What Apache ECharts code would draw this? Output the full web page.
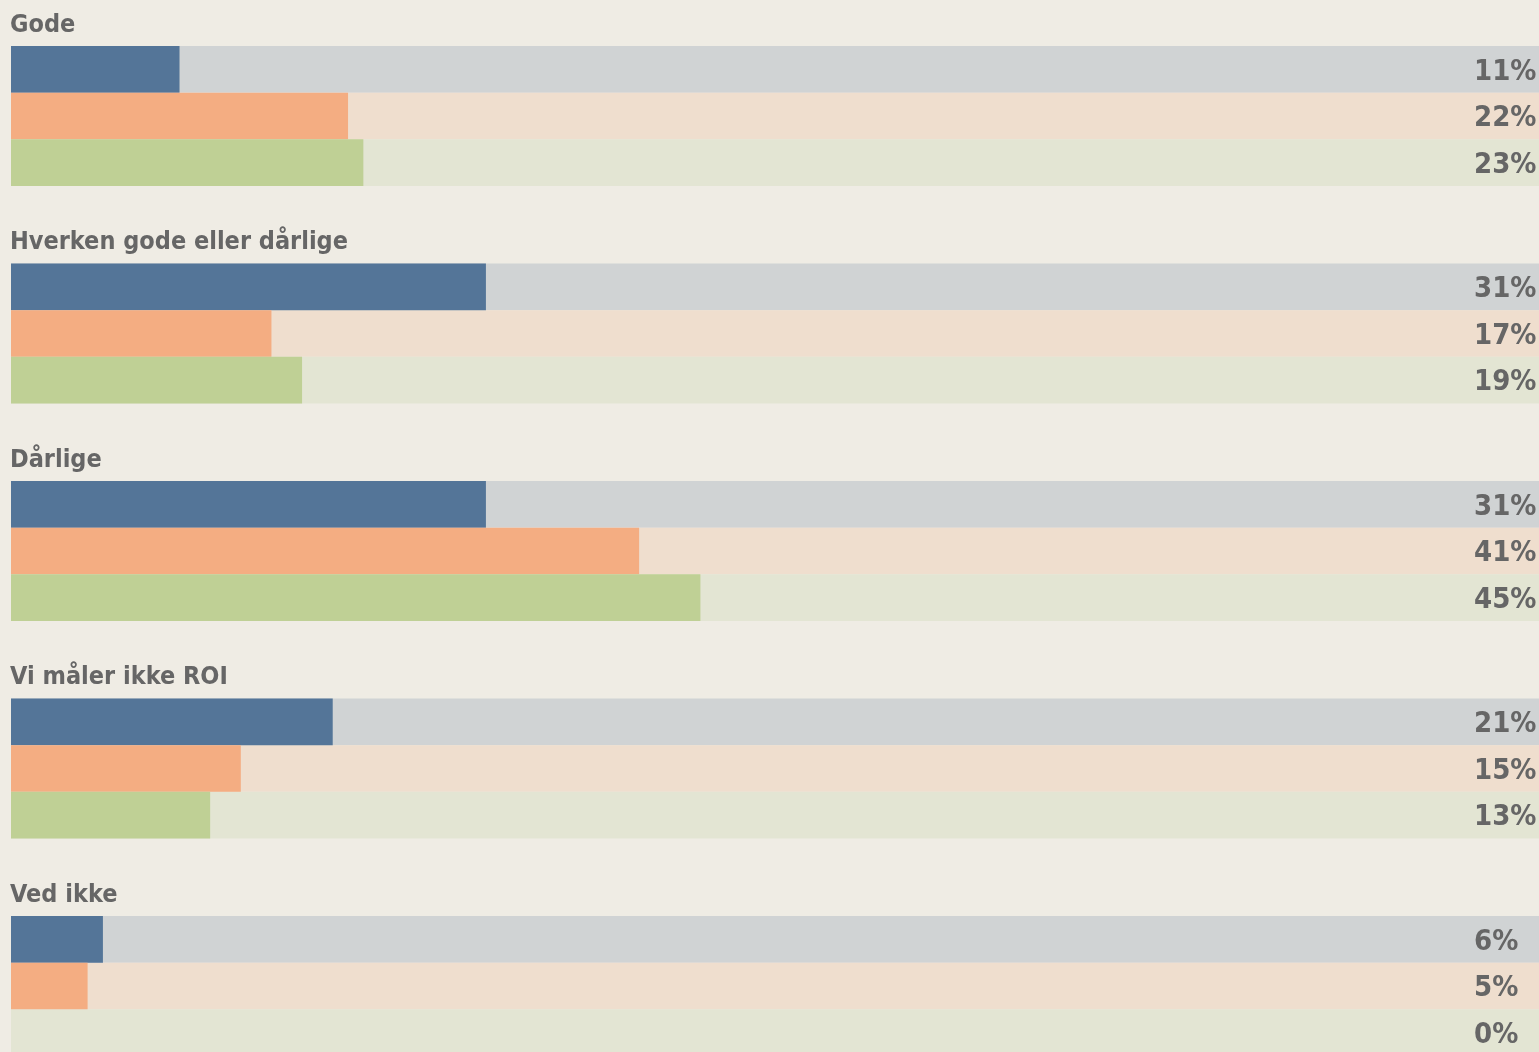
<!DOCTYPE html>
<html>
<head>
<meta charset="utf-8">
<script src="https://cdn.jsdelivr.net/npm/echarts@6/dist/echarts.min.js"></script>
<style>
  html, body { margin: 0; padding: 0; background: #efece4; overflow: hidden; }
  #main { width: 1539px; height: 1100px; }
</style>
</head>
<body>
<div id="main"></div>
<script type="text/javascript">
// categories (answer groups)
var categories = ['Gode', 'Hverken gode eller dårlige', 'Dårlige', 'Vi måler ikke ROI', 'Ved ikke'];
// percent values per series, one entry per category
var blueValues = [11, 31, 31, 21, 6];
var orangeValues = [22, 17, 41, 15, 5];
var greenValues = [23, 19, 45, 13, 0];

var fontFam = '"DejaVu Sans Condensed", "DejaVu Sans", sans-serif';

function makeSeries(data, color, bg) {
    return {
        type: 'bar',
        data: data,
        barWidth: 140 / 3,
        barGap: '0%',
        itemStyle: { color: color },
        showBackground: true,
        backgroundStyle: { color: bg },
        silent: true,
        label: {
            show: true,
            position: [1463, 26],
            align: 'left',
            verticalAlign: 'middle',
            formatter: '{c}%',
            color: '#666666',
            fontFamily: fontFam,
            fontWeight: 'bold',
            fontSize: 29
        }
    };
}

var myChart = echarts.init(document.getElementById('main'));
var option = {
    backgroundColor: '#efece4',
    animation: false,
    grid: { left: 11, top: 7.25, width: 1532, height: 1087.5, outerBoundsMode: 'none' },
    xAxis: {
        type: 'value',
        min: 0,
        max: 100,
        show: false
    },
    yAxis: {
        type: 'category',
        inverse: true,
        data: categories,
        axisLine: { show: false },
        axisTick: { show: false },
        axisLabel: { show: false }
    },
    series: [
        makeSeries(blueValues, '#547598', '#d0d3d4'),
        makeSeries(orangeValues, '#f4ad82', '#efdece'),
        makeSeries(greenValues, '#bfd095', '#e3e5d3'),
        {
            // group titles above each block of bars
            type: 'scatter',
            symbolSize: 0,
            silent: true,
            itemStyle: { opacity: 1 },
            data: categories.map(function (c) { return [0, c]; }),
            label: {
                show: true,
                position: 'right',
                distance: 0,
                offset: [-1, -91],
                formatter: function (p) { return p.value[1]; },
                color: '#666666',
                opacity: 1,
                fontFamily: fontFam,
                fontWeight: 'bold',
                fontSize: 25
            }
        }
    ]
};
myChart.setOption(option);
</script>
</body>
</html>
